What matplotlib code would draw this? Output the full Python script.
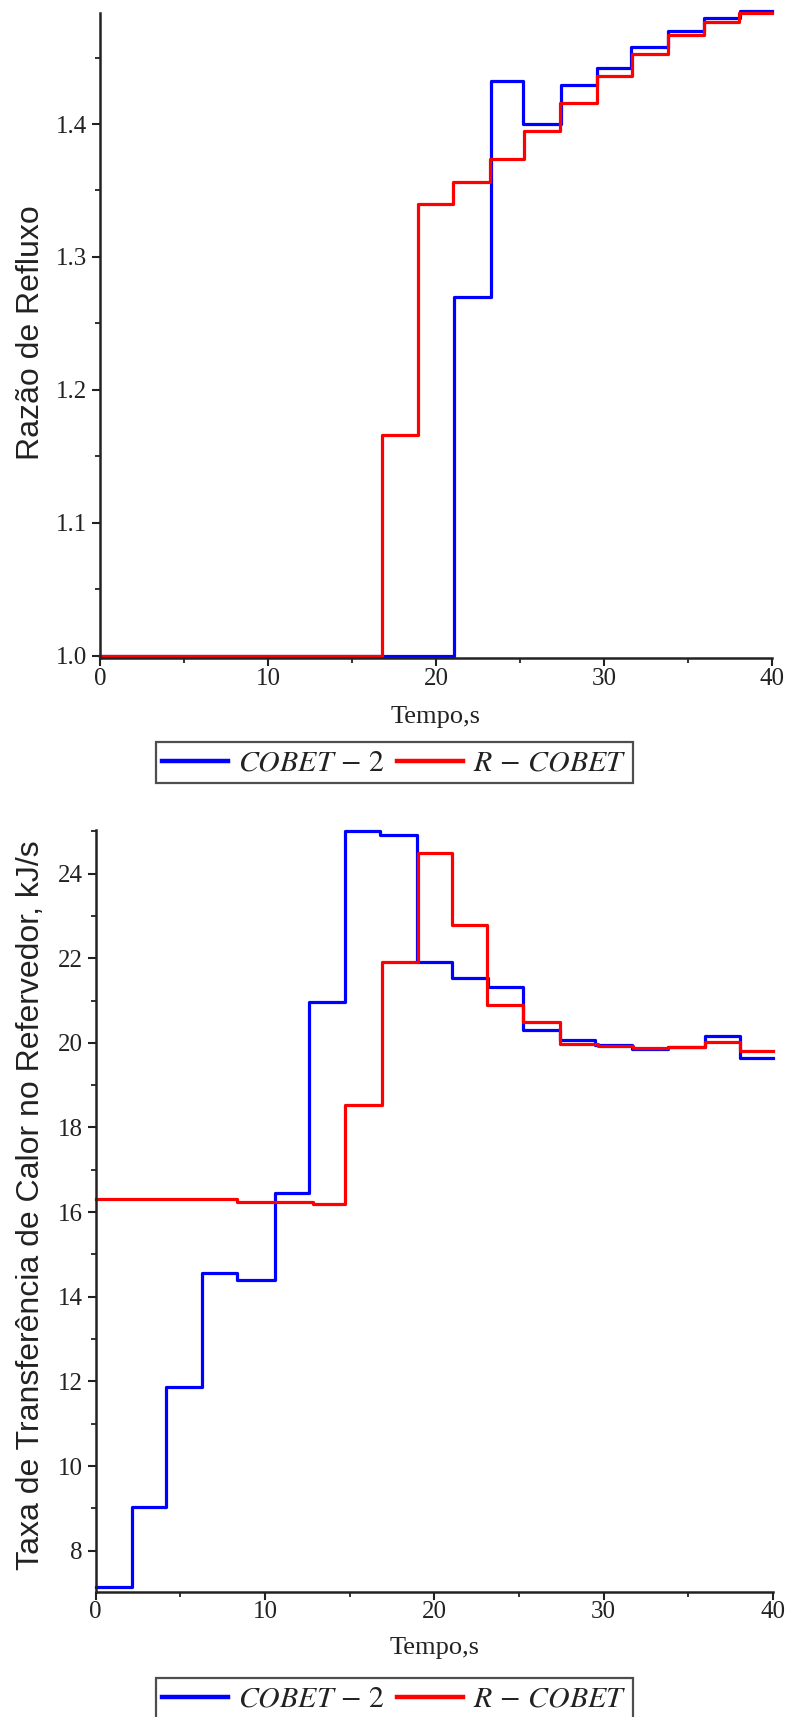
import matplotlib
matplotlib.use("Agg")
import matplotlib.pyplot as plt
from matplotlib.ticker import MultipleLocator
from matplotlib.lines import Line2D

# ---------------- data ----------------
# Top panel: Razão de Refluxo
t_rr_cobet2 = [0, 21.07, 23.26, 25.2, 27.45, 29.57, 31.6, 33.8, 35.95, 38.1, 40]
rr_cobet2 = [1.0, 1.270, 1.432, 1.400, 1.429, 1.442, 1.458, 1.470, 1.480, 1.485, 1.485]
t_rr_rcobet = [0, 16.76, 18.95, 21.03, 23.2, 25.24, 27.39, 29.6, 31.65, 33.8, 35.95, 38.05, 40]
rr_rcobet = [1.0, 1.166, 1.340, 1.356, 1.374, 1.395, 1.4155, 1.436, 1.453, 1.467, 1.4765, 1.4836, 1.4836]

# Bottom panel: Taxa de Transferência de Calor no Refervedor
t_q_cobet2 = [0, 2.13, 4.15, 6.29, 8.36, 10.6, 12.62, 14.73, 16.79, 18.96, 21.03,
              23.19, 25.22, 27.42, 29.49, 31.7, 33.8, 35.98, 38.05, 40]
q_cobet2 = [7.13, 9.02, 11.86, 14.55, 14.40, 16.45, 20.97, 25.0, 24.92, 21.91, 21.54,
            21.32, 20.30, 20.07, 19.94, 19.86, 19.90, 20.17, 19.65, 19.65]
t_q_rcobet = [0, 8.33, 12.86, 14.73, 16.89, 19.06, 21.03, 23.13, 25.26, 27.42, 29.68,
              31.73, 33.8, 35.97, 38.04, 40]
q_rcobet = [16.30, 16.25, 16.20, 18.53, 21.90, 24.48, 22.78, 20.90, 20.50, 19.97, 19.92,
            19.87, 19.90, 20.03, 19.80, 19.80]

labels = [r"$COBET\,-\,2$", r"$R\,-\,COBET$"]
x_ticks = [0, 10, 20, 30, 40]

# ---------------- style ----------------
plt.rcParams["mathtext.fontset"] = "stix"
serif = ["Liberation Serif", "DejaVu Serif"]
sans = ["Liberation Sans", "DejaVu Sans"]
BLUE = "#0000ff"
RED = "#ff0000"
TXT = "#222222"
LW = 2.3

W, H = 789, 1717
fig = plt.figure(figsize=(W / 100, H / 100), dpi=100)


def frac_axes(left, right, top, bottom):
    return fig.add_axes([left / W, 1 - bottom / H, (right - left) / W, (bottom - top) / H])


ax1 = frac_axes(100, 772, 13, 658)
ax2 = frac_axes(95.7, 773, 830, 1591.7)


def style(ax, xlabelpad):
    for s in ("top", "right"):
        ax.spines[s].set_visible(False)
    for s in ("left", "bottom"):
        ax.spines[s].set_linewidth(1.8)
        ax.spines[s].set_color("#222222")
    ax.tick_params(which="major", length=5.5, width=1.5, direction="out",
                   labelsize=18, colors="#222222", pad=4)
    ax.tick_params(which="minor", length=3.5, width=1.3, direction="out", colors="#222222")
    ax.tick_params(axis="x", which="major", pad=1.5)
    ax.set_xlim(0, 40)
    ax.set_xticks(x_ticks)
    ax.set_xticklabels([str(v) for v in x_ticks], fontfamily=serif)
    ax.xaxis.set_minor_locator(MultipleLocator(5))
    ax.set_xlabel("Tempo,s", fontfamily=serif, fontsize=19, color=TXT, labelpad=xlabelpad)


# top panel
ax1.step(t_rr_cobet2, rr_cobet2, where="post", color=BLUE, lw=LW, clip_on=False)
ax1.step(t_rr_rcobet, rr_rcobet, where="post", color=RED, lw=LW, clip_on=False)
ax1.set_ylim(0.9983, 1.4835)
ax1.set_yticks([1.0, 1.1, 1.2, 1.3, 1.4])
ax1.set_yticklabels(["1.0", "1.1", "1.2", "1.3", "1.4"], fontfamily=serif)
ax1.yaxis.set_minor_locator(MultipleLocator(0.05))
style(ax1, 12)
fig.text(31 / W, 1 - 333 / H, "Razão de Refluxo", rotation=90, ha="center", va="center",
         fontfamily=sans, fontsize=23, color=TXT)

# bottom panel
ax2.step(t_q_cobet2, q_cobet2, where="post", color=BLUE, lw=LW, clip_on=False)
ax2.step(t_q_rcobet, q_rcobet, where="post", color=RED, lw=LW, clip_on=False)
ax2.set_ylim(7.03, 25.03)
ax2.set_yticks(range(8, 25, 2))
ax2.set_yticklabels([str(v) for v in range(8, 25, 2)], fontfamily=serif)
ax2.yaxis.set_minor_locator(MultipleLocator(1))
style(ax2, 10)
fig.text(31 / W, 1 - 1205 / H, "Taxa de Transferência de Calor no Refervedor, kJ/s",
         rotation=90, ha="center", va="center", fontfamily=sans, fontsize=23, color=TXT)

handles = [Line2D([], [], color=BLUE, lw=3.2), Line2D([], [], color=RED, lw=3.2)]
for ypos in (1 - 742 / H, 1 - 1678 / H):
    leg = fig.legend(handles, labels, loc="upper center", bbox_to_anchor=(0.5, ypos),
                     ncol=2, frameon=True, fancybox=False, fontsize=21.5,
                     handlelength=2.2, handletextpad=0.35, columnspacing=0.4,
                     borderpad=0.2, borderaxespad=0, labelcolor=TXT)
    leg.get_frame().set_edgecolor("#222222")
    leg.get_frame().set_linewidth(1.6)

fig.savefig("out.png", dpi=100, facecolor="white")
